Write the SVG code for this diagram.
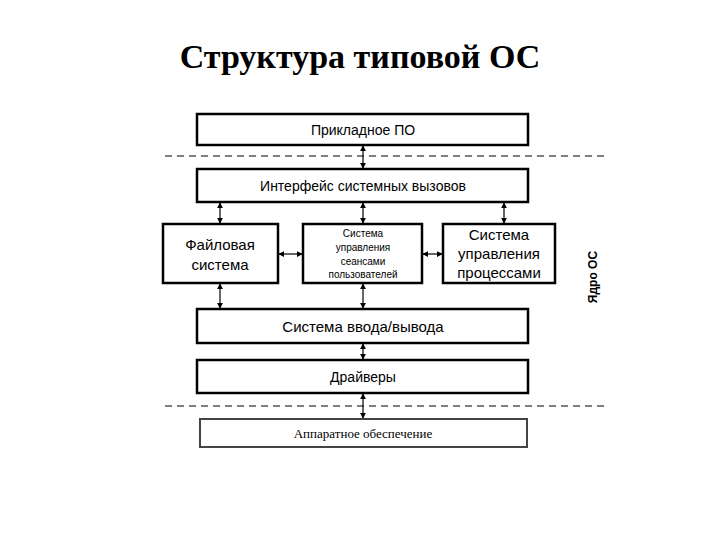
<svg xmlns="http://www.w3.org/2000/svg" width="720" height="540" viewBox="0 0 720 540">
<style>
.b{fill:#fff;stroke:#000;stroke-width:2.5}
.t{font-family:"Liberation Sans",Arial,sans-serif;text-anchor:middle;fill:#000}
.c{stroke:#000;stroke-width:1.2;fill:none;marker-start:url(#a);marker-end:url(#a)}
.d{stroke:#555;stroke-width:1.5;stroke-dasharray:7,5}
</style>
<defs><marker id="a" viewBox="0 0 8 8" refX="7" refY="4" markerWidth="5" markerHeight="5" orient="auto-start-reverse"><path d="M0,0L8,4L0,8z" fill="#000"/></marker></defs>
<rect width="720" height="540" fill="#fff"/>
<text x="360" y="68" class="t" style="font-family:'Liberation Serif',serif;font-size:34px;font-weight:bold">Структура типовой ОС</text>
<g id="sep"><line x1="165" y1="156" x2="606" y2="156" class="d"/><line x1="165" y1="406" x2="606" y2="406" class="d"/></g>
<g id="connectors">
<line x1="363" y1="146" x2="363" y2="168" class="c"/>
<line x1="220" y1="203" x2="220" y2="223" class="c"/>
<line x1="363" y1="203" x2="363" y2="223" class="c"/>
<line x1="504" y1="203" x2="504" y2="223" class="c"/>
<line x1="279" y1="254" x2="302" y2="254" class="c"/>
<line x1="423" y1="254" x2="442" y2="254" class="c"/>
<line x1="220" y1="284" x2="220" y2="308" class="c"/>
<line x1="363" y1="284" x2="363" y2="308" class="c"/>
<line x1="363" y1="344" x2="363" y2="359" class="c"/>
<line x1="363" y1="394" x2="363" y2="418" class="c"/>
</g>
<g id="app"><rect x="197" y="114" width="331" height="31" class="b"/><text x="363" y="135" class="t" font-size="14">Прикладное ПО</text></g>
<g id="sci"><rect x="197" y="169" width="331" height="33" class="b"/><text x="363" y="191" class="t" font-size="14">Интерфейс системных вызовов</text></g>
<g id="fs"><rect x="163" y="224" width="115" height="59" class="b"/><text x="220" y="250" class="t" font-size="15">Файловая</text><text x="220" y="270" class="t" font-size="15">система</text></g>
<g id="sess"><rect x="303" y="224" width="119" height="59" class="b"/><text x="363" y="237" class="t" font-size="10">Система</text><text x="363" y="251" class="t" font-size="10">управления</text><text x="363" y="265" class="t" font-size="10">сеансами</text><text x="363" y="278" class="t" font-size="10">пользователей</text></g>
<g id="proc"><rect x="443" y="224" width="112" height="59" class="b"/><text x="499" y="240" class="t" font-size="15">Система</text><text x="499" y="259" class="t" font-size="15">управления</text><text x="499" y="278" class="t" font-size="15">процессами</text></g>
<g id="io"><rect x="197" y="309" width="331" height="34" class="b"/><text x="363" y="332" class="t" font-size="15">Система ввода/вывода</text></g>
<g id="drv"><rect x="197" y="360" width="331" height="33" class="b"/><text x="363" y="382" class="t" font-size="14">Драйверы</text></g>
<g id="hw"><rect x="200" y="419" width="327" height="28" fill="#fff" stroke="#444" stroke-width="2"/><text x="363" y="438" class="t" style="font-family:'Liberation Serif',serif;font-size:13px">Аппаратное обеспечение</text></g>
<text transform="translate(597,277) rotate(-90)" class="t" font-size="12" font-weight="bold">Ядро ОС</text>
</svg>
